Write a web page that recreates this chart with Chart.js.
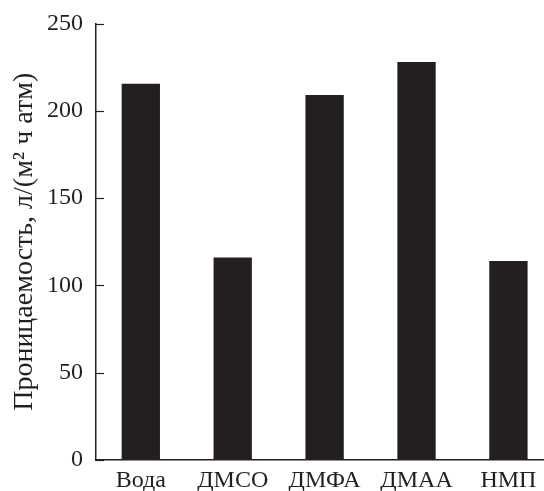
<!DOCTYPE html>
<html>
<head>
<meta charset="utf-8">
<script src="https://cdn.jsdelivr.net/npm/chart.js@4.4.0/dist/chart.umd.min.js"></script>
<style>
    html, body { margin: 0; padding: 0; background: #fff; }
    #wrap { width: 544px; height: 491px; }
</style>
</head>
<body>
<div id="wrap"><canvas id="bars"></canvas></div>
<script>
const solvents = ['Вода', 'ДМСО', 'ДМФА', 'ДМАА', 'НМП'];
const permeance = [215.5, 116, 209, 228, 114];
const yTicks = [0, 50, 100, 150, 200, 250];

const ink = '#231f20';
const serif = 'Liberation Serif, Times New Roman, serif';

// short tick marks pointing into the plot, like the original figure
const innerTicks = {
    id: 'innerTicks',
    afterDraw(chart) {
        const ctx = chart.ctx;
        const y = chart.scales.y;
        const x0 = chart.chartArea.left;
        ctx.save();
        ctx.strokeStyle = ink;
        ctx.lineWidth = 1.2;
        yTicks.forEach(v => {
            const py = Math.round(y.getPixelForValue(v)) + 0.5;
            ctx.beginPath();
            ctx.moveTo(x0, py);
            ctx.lineTo(x0 + 8, py);
            ctx.stroke();
        });
        ctx.restore();
    }
};

new Chart(document.getElementById('bars').getContext('2d'), {
    type: 'bar',
    data: {
        datasets: [{
            data: permeance.map((v, i) => ({ x: i, y: v })),
            backgroundColor: ink,
            borderWidth: 0,
            categoryPercentage: 1,
            barPercentage: 0.417
        }]
    },
    options: {
        responsive: true,
        maintainAspectRatio: false,
        animation: false,
        layout: { padding: { top: 23.5, right: 0, left: 0, bottom: 0 } },
        plugins: { legend: { display: false }, tooltip: { enabled: false } },
        scales: {
            x: {
                type: 'linear',
                offset: false,
                min: -0.4875,
                max: 4.387,
                afterBuildTicks: scale => {
                    scale.ticks = solvents.map((_, i) => ({ value: i }));
                },
                afterFit: scale => { scale.height = 31; },
                grid: { display: false, drawTicks: false },
                border: { display: true, color: ink, width: 1.5 },
                ticks: {
                    autoSkip: false,
                    maxRotation: 0,
                    padding: 6,
                    color: ink,
                    font: { family: serif, size: 24 },
                    callback: v => solvents[v]
                }
            },
            y: {
                min: 0,
                max: 250,
                afterBuildTicks: scale => {
                    scale.ticks = yTicks.map(v => ({ value: v }));
                },
                afterFit: scale => {
                    scale.width = 96;
                    scale.paddingTop = 0;
                    scale.paddingBottom = 0;
                },
                grid: { display: false, drawTicks: false },
                border: { display: true, color: ink, width: 1.5 },
                ticks: {
                    padding: 13,
                    color: ink,
                    font: { family: serif, size: 24 }
                },
                title: {
                    display: true,
                    text: 'Проницаемость, л/(м² ч атм)',
                    color: ink,
                    font: { family: serif, size: 28 },
                    padding: { top: 8, bottom: 0 }
                }
            }
        }
    },
    plugins: [innerTicks]
});
</script>
</body>
</html>
